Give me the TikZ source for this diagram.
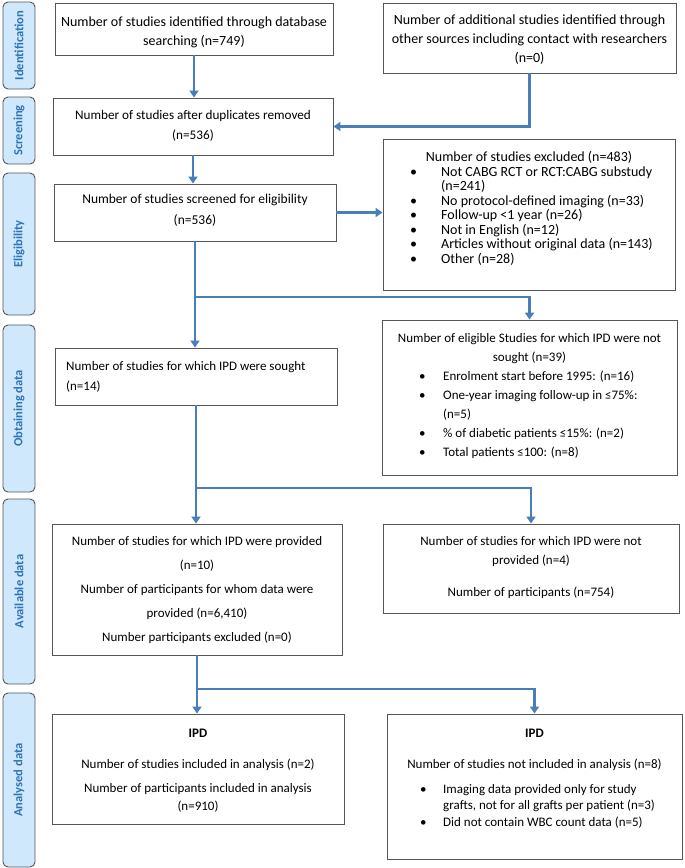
\documentclass[tikz,border=0pt]{standalone}
\usepackage{fontspec}
\setmainfont{Carlito}
\usetikzlibrary{arrows.meta}
\definecolor{arrowblue}{RGB}{74,126,187}
\definecolor{stagefill}{RGB}{207,232,251}
\definecolor{stagetext}{RGB}{46,116,181}
\definecolor{boxline}{RGB}{85,85,85}
\begin{document}
\begin{tikzpicture}[x=1bp,y=-1bp,
  stage/.style={draw=boxline, fill=stagefill, rounded corners=5bp, line width=0.9bp,
    rotate=90, minimum height=32bp, inner sep=0, text=stagetext,
    font=\fontsize{12.5bp}{14bp}\selectfont\bfseries},
  box/.style={draw=boxline, line width=0.9bp, inner sep=0, rectangle},
  txt/.style={inner sep=0, anchor=base},
  txtl/.style={inner sep=0, anchor=base west},
  arr/.style={draw=arrowblue, line width=2.6bp, -{Triangle[length=7bp,width=9bp]}}
]
\useasboundingbox (0,0) rectangle (685,868);

% stage labels
\node[stage, minimum width=87bp]  (s1) at (19,45.5)  {Identification};
\node[stage, minimum width=67bp]  (s2) at (19,130.5) {Screening};
\node[stage, minimum width=142bp] (s3) at (19,244)   {Eligibility};
\node[stage, minimum width=167bp] (s4) at (19,408.5) {Obtaining data};
\node[stage, minimum width=185bp] (s5) at (19,591.5) {Available data};
\node[stage, minimum width=174bp] (s6) at (19,780)   {Analysed data};

% boxes
\node[box, minimum width=278bp, minimum height=52bp]  (b1) at (194,29) {};
\node[box, minimum width=293bp, minimum height=70bp]  (b2) at (529.5,38) {};
\node[box, minimum width=280bp, minimum height=57bp]  (b3) at (193,126.5) {};
\node[box, minimum width=292bp, minimum height=151bp] (ex) at (529,214.5) {};
\node[box, minimum width=282bp, minimum height=57bp]  (b4) at (195,212.5) {};
\node[box, minimum width=295bp, minimum height=155bp] (ns) at (529.5,397.5) {};
\node[box, minimum width=282bp, minimum height=57bp]  (b5) at (196,376.5) {};
\node[box, minimum width=290bp, minimum height=131bp] (av) at (197,589.5) {};
\node[box, minimum width=296bp, minimum height=89bp]  (np) at (531,568.5) {};
\node[box, minimum width=292bp, minimum height=110bp] (il) at (198,769) {};
\node[box, minimum width=295bp, minimum height=145bp] (ir) at (534.5,786.5) {};

% texts
\node[txt, font=\fontsize{14bp}{19.5bp}\selectfont] (t1) at (194,26)
  {\begin{tabular}[t]{@{}c@{}}Number of studies identified through database\\searching (n=749)\end{tabular}};
\node[txt, font=\fontsize{14bp}{19bp}\selectfont] (t2) at (529.5,24)
  {\begin{tabular}[t]{@{}c@{}}Number of additional studies identified through\\other sources including contact with researchers\\(n=0)\end{tabular}};
\node[txt, font=\fontsize{13.2bp}{20bp}\selectfont] (t3) at (193,119)
  {\begin{tabular}[t]{@{}c@{}}Number of studies after duplicates removed\\(n=536)\end{tabular}};
\node[txt, font=\fontsize{13.5bp}{21bp}\selectfont] (t4) at (195,203)
  {\begin{tabular}[t]{@{}c@{}}Number of studies screened for eligibility\\(n=536)\end{tabular}};
\node[txt, font=\fontsize{14bp}{14.3bp}\selectfont] (exh) at (529,161)
  {Number of studies excluded (n=483)};
\node[txtl, font=\fontsize{14bp}{14.3bp}\selectfont] (exl) at (410,176)
  {\begin{tabular}[t]{@{}p{31bp}@{}l@{}}
  \textbullet & Not CABG RCT or RCT:CABG substudy\\
   & (n=241)\\
  \textbullet & No protocol-defined imaging (n=33)\\
  \textbullet & Follow-up <1 year (n=26)\\
  \textbullet & Not in English (n=12)\\
  \textbullet & Articles without original data (n=143)\\
  \textbullet & Other (n=28)
  \end{tabular}};
\node[txt, font=\fontsize{13bp}{19bp}\selectfont] (nsh) at (529.5,342)
  {\begin{tabular}[t]{@{}c@{}}Number of eligible Studies for which IPD were not\\sought (n=39)\end{tabular}};
\node[txtl, font=\fontsize{13bp}{19.2bp}\selectfont] (nsl) at (419,380)
  {\begin{tabular}[t]{@{}p{24bp}@{}l@{}}
  \textbullet & Enrolment start before 1995: (n=16)\\
  \textbullet & One-year imaging follow-up in ≤75\%:\\
   & (n=5)\\
  \textbullet & \% of diabetic patients ≤15\%: (n=2)\\
  \textbullet & Total patients ≤100: (n=8)
  \end{tabular}};
\node[txtl, font=\fontsize{13bp}{20bp}\selectfont] (t5) at (66,370)
  {\begin{tabular}[t]{@{}l@{}}Number of studies for which IPD were sought\\(n=14)\end{tabular}};
\node[txt, font=\fontsize{13bp}{24bp}\selectfont] (avt) at (197,545)
  {\begin{tabular}[t]{@{}c@{}}Number of studies for which IPD were provided\\(n=10)\\Number of participants for whom data were\\provided (n=6,410)\\Number participants excluded (n=0)\end{tabular}};
\node[txt, font=\fontsize{13bp}{19bp}\selectfont] (npt) at (531,545)
  {\begin{tabular}[t]{@{}c@{}}Number of studies for which IPD were not\\provided (n=4)\\[13bp]Number of participants (n=754)\end{tabular}};
\node[txt, font=\fontsize{13bp}{18bp}\selectfont] (ilt) at (198,737)
  {\begin{tabular}[t]{@{}c@{}}\textbf{IPD}\\[13bp]Number of studies included in analysis (n=2)\\[6bp]Number of participants included in analysis\\(n=910)\end{tabular}};
\node[txt, font=\fontsize{13bp}{18bp}\selectfont] (irh) at (534.5,737)
  {\begin{tabular}[t]{@{}c@{}}\textbf{IPD}\\[13bp]Number of studies not included in analysis (n=8)\end{tabular}};
\node[txtl, font=\fontsize{13bp}{16.5bp}\selectfont] (irl) at (420,793)
  {\begin{tabular}[t]{@{}p{23bp}@{}l@{}}
  \textbullet & Imaging data provided only for study\\
   & grafts, not for all grafts per patient (n=3)\\
  \textbullet & Did not contain WBC count data (n=5)
  \end{tabular}};

% connectors
\coordinate (j1) at (195,297);
\coordinate (j2) at (196,488);
\coordinate (j3) at (197,689);
\draw[arr] (b1.south) -- (b1.south |- b3.north);
\draw[arr] (b2.south) |- (b3.east);
\draw[arr] (b3.south) -- (b3.south |- b4.north);
\draw[arr] (b4.east) -- (b4.east -| ex.west);
\draw[arr] (b4.south) -- (b4.south |- b5.north);
\draw[arr] (j1) -| (ns.north);
\draw[arr] (b5.south) -- (b5.south |- av.north);
\draw[arr] (j2) -| (np.north);
\draw[arr] (av.south) -- (av.south |- il.north);
\draw[arr] (j3) -| (ir.north);
\end{tikzpicture}
\end{document}
